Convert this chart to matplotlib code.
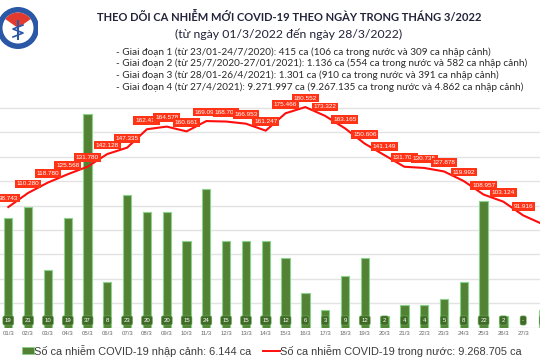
import numpy as np
import matplotlib
matplotlib.use("Agg")
import matplotlib.pyplot as plt
from matplotlib.patches import Circle, Wedge, Rectangle
from matplotlib.lines import Line2D

# data
days = ["01/3", "02/3", "03/3", "04/3", "05/3", "06/3", "07/3", "08/3", "09/3", "10/3",
        "11/3", "12/3", "13/3", "14/3", "15/3", "16/3", "17/3", "18/3", "19/3", "20/3",
        "21/3", "22/3", "23/3", "24/3", "25/3", "26/3", "27/3", "28/3"]
imported = [19, 21, 10, 19, 37, 8, 23, 20, 20, 15, 24, 15, 15, 15,
            12, 6, 3, 9, 12, 2, 4, 4, 5, 8, 22, 2, 0, 3]
domestic = [98743, 110280, 118780, 125568, 131780, 142128, 147335, 162414, 164578, 160661,
            169096, 168707, 166953, 161247, 175466, 180552, 173322, 163165, 150606, 141149,
            131701, 130735, 127878, 119992, 108957, 103124, 91916, 84625]

title = "THEO DÕI CA NHIỄM MỚI COVID-19 THEO NGÀY TRONG THÁNG 3/2022"
subtitle = "(từ ngày 01/3/2022 đến ngày 28/3/2022)"
notes = ["- Giai đoạn 1 (từ 23/01-24/7/2020): 415 ca (106 ca trong nước và 309 ca nhập cảnh)",
         "- Giai đoạn 2 (từ 25/7/2020-27/01/2021): 1.136 ca (554 ca trong nước và 582 ca nhập cảnh)",
         "- Giai đoạn 3 (từ 28/01-26/4/2021): 1.301 ca (910 ca trong nước và 391 ca nhập cảnh)",
         "- Giai đoạn 4 (từ 27/4/2021): 9.271.997 ca (9.267.135 ca trong nước và 4.862 ca nhập cảnh)"]
legend_bar = "Số ca nhiễm COVID-19 nhập cảnh: 6.144 ca"
legend_line = "Số ca nhiễm COVID-19 trong nước: 9.268.705 ca"

def fmt(v):
    return "{:,}".format(v).replace(",", ".")

FONT = ["Lato", "Noto Sans", "DejaVu Sans"]
W, H = 540, 360
fig = plt.figure(figsize=(5.4, 3.6), dpi=100)
fig.patch.set_facecolor("white")

x = np.arange(len(days))
xl = (-0.42, 26.85)
rect = [0, (H - 327.7) / H, 1, 244.4 / H]

# grid axis (line scale)
ax = fig.add_axes(rect)
ax.set_xlim(xl)
ax.set_ylim(0, 200000)
for g in np.arange(0, 180001, 20000):
    ax.axhline(g, color="#e3e3e3", lw=1.0, zorder=0)
ax.axis("off")

# bars
axb = fig.add_axes(rect, sharex=ax)
axb.patch.set_alpha(0)
axb.set_ylim(0, 244.4 / 5.77)
axb.bar(x, imported, width=0.42, color="#548235", edgecolor="#8ad38a", linewidth=0.8)
for xi, v in zip(x, imported):
    axb.text(xi, 1.25, str(v) if v else "-", ha="center", va="center", fontsize=4.3,
             color="white", family="Liberation Sans",
             bbox=dict(boxstyle="round,pad=0.35,rounding_size=0.3", fc="#3f6b27", ec="#6fae5a", lw=0.4))
axb.set_xticks(x)
axb.set_xticklabels(days, fontsize=4.3, color="#666666", family="Liberation Sans")
axb.tick_params(axis="x", length=0, pad=2.5)
axb.set_yticks([])
for s in axb.spines.values():
    s.set_visible(False)

# line
axl = fig.add_axes(rect, sharex=ax)
axl.patch.set_alpha(0)
axl.set_ylim(0, 200000)
axl.plot(x, domestic, color="#ff0d0d", lw=1.5, clip_on=False)
for xi, v in zip(x, domestic):
    axl.annotate(fmt(v), (xi, v), xytext=(0, 9), textcoords="offset pixels",
                 ha="center", va="center", fontsize=4.6, color="white", family="Liberation Sans",
                 bbox=dict(boxstyle="square,pad=0.28", fc="#ff3417", ec="none"))
axl.axis("off")
axl.set_xlim(xl)

# header text
fig.text(289 / W, 1 - 17 / H, title, ha="center", va="center", fontsize=8.0,
         fontweight="bold", color="#23233a", family=FONT)
fig.text(289 / W, 1 - 34 / H, subtitle, ha="center", va="center", fontsize=8.8,
         color="#23233a", family=FONT)
for i, n in enumerate(notes):
    fig.text(116 / W, 1 - (52 + 11.6 * i) / H, n, ha="left", va="center", fontsize=7.2,
             color="#2a2a2a", family=FONT)

# logo
lg = fig.add_axes([0, 1 - 52 / H, 38 / W, 48 / H])
lg.set_xlim(-22, 16)
lg.set_ylim(-24, 24)
lg.set_aspect("equal")
lg.axis("off")
lg.add_patch(Circle((-4, 0), 21, fc="#2a57a6", ec="none"))
lg.add_patch(Circle((-4, 0), 15.5, fc="white", ec="none"))
lg.add_patch(Wedge((-4, 0), 15.5, 35, 145, fc="#e23a2e", ec="none"))
lg.add_patch(Rectangle((-5, -12), 2, 20, fc="#2a57a6", ec="none"))
lg.plot([-9, 1, -9, 1], [-9, -5, -1, 3], color="#2a57a6", lw=1.2)

# bottom legend
fig.add_artist(Rectangle((21.5 / W, 1 - 354 / H), 12 / W, 7.5 / H, transform=fig.transFigure,
                         fc="#548235", ec="#8ad38a", lw=0.6))
fig.text(34 / W, 1 - 351 / H, legend_bar, ha="left", va="center", fontsize=7.9,
         color="#3c3c3c", family="Liberation Sans")
fig.add_artist(Line2D([263 / W, 280 / W], [1 - 350.5 / H] * 2, transform=fig.transFigure,
                      color="#ff0d0d", lw=1.4))
fig.text(280 / W, 1 - 351 / H, legend_line, ha="left", va="center", fontsize=7.9,
         color="#3c3c3c", family="Liberation Sans")

fig.savefig("out.png", dpi=100)
